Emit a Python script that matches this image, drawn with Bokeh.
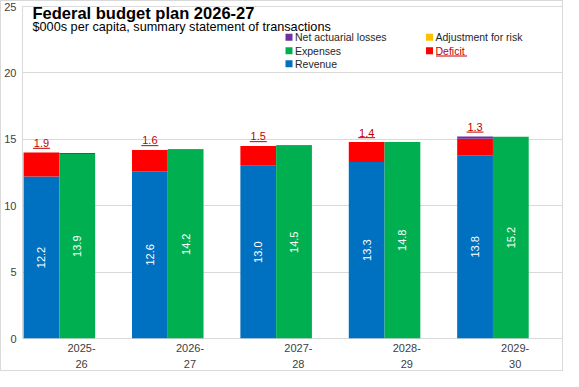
import math
from bokeh.plotting import figure
from bokeh.models import Range1d, FixedTicker, Label, BoxAnnotation, ColumnDataSource
from bokeh.embed import file_html
from bokeh.resources import INLINE
from bokeh.core.properties import value

# ---------------- data ----------------
years = ["2025-\n26", "2026-\n27", "2027-\n28", "2028-\n29", "2029-\n30"]
revenue = [12.2, 12.6, 13.0, 13.3, 13.8]
expenses = [13.9, 14.2, 14.5, 14.8, 15.2]
deficit_bar = [1.8, 1.6, 1.5, 1.5, 1.25]          # drawn height of the red segment
deficit_label = [1.9, 1.6, 1.5, 1.4, 1.3]         # printed deficit value
actuarial_on_deficit = [0.0, 0.0, 0.0, 0.0, 0.17]
actuarial_on_expenses = [0.06, 0.06, 0.06, 0.0, 0.0]
y_ticks = [0, 5, 10, 15, 20, 25]

title_text = "Federal budget plan 2026-27"
subtitle_text = "$000s per capita, summary statement of transactions"
legend_items = [
    ("Net actuarial losses", "#7030A0"),
    ("Adjustment for risk", "#FFC000"),
    ("Expenses", "#00B050"),
    ("Deficit", "#FF0000"),
    ("Revenue", "#0070C0"),
]

C_REV, C_EXP, C_DEF, C_ACT = "#0070C0", "#00B050", "#FF0000", "#7030A0"
DARKRED = "#C00000"
FONT = "Liberation Sans"

W, H = 563, 371
p = figure(width=W, height=H, output_backend="svg", toolbar_location=None,
           x_range=Range1d(-0.545, 4.455), y_range=Range1d(0, 25),
           min_border_left=0, min_border_right=0, min_border_top=5, min_border_bottom=0)
p.outline_line_color = "#D9D9D9"
p.background_fill_color = "white"
p.border_fill_color = "white"
p.styles = {"border": "1px solid #D9D9D9"}

idx = list(range(len(years)))
rev_x = [i - 0.37 for i in idx]
exp_x = [i - 0.04 for i in idx]
BW = 0.33

frame_h_px = 334.0
px = 25.0 / frame_h_px   # data units per vertical screen pixel

src = ColumnDataSource(dict(
    rev_x=rev_x, exp_x=exp_x, revenue=revenue, expenses=expenses,
    def_bottom=revenue,
    def_top=[r + d for r, d in zip(revenue, deficit_bar)],
    act_d_top=[r + d + a for r, d, a in zip(revenue, deficit_bar, actuarial_on_deficit)],
    act_e_top=[e + a for e, a in zip(expenses, actuarial_on_expenses)],
    rev_mid=[r / 2 for r in revenue], exp_mid=[e / 2 for e in expenses],
    rev_txt=[f"{v:.1f}" for v in revenue], exp_txt=[f"{v:.1f}" for v in expenses],
    def_txt=[f"{v:.1f}" for v in deficit_label],
))
src.data["lab_y"] = [t + 9.5 * px for t in src.data["act_d_top"]]
src.data["ul_y"] = [t + 4.3 * px for t in src.data["act_d_top"]]

p.vbar(x="rev_x", width=BW, bottom=0, top="revenue", source=src, fill_color=C_REV, line_color=None)
p.vbar(x="rev_x", width=BW, bottom="def_bottom", top="def_top", source=src, fill_color=C_DEF, line_color=None)
p.vbar(x="rev_x", width=BW, bottom="def_top", top="act_d_top", source=src, fill_color=C_ACT, line_color=None)
p.vbar(x="exp_x", width=BW, bottom=0, top="expenses", source=src, fill_color=C_EXP, line_color=None)
p.vbar(x="exp_x", width=BW, bottom="expenses", top="act_e_top", source=src, fill_color=C_ACT, line_color=None)

# value labels inside bars
p.text(x="rev_x", y="rev_mid", text="rev_txt", source=src, angle=math.pi / 2,
       text_align="center", text_baseline="middle", text_color="white",
       text_font=value(FONT), text_font_size="11px")
p.text(x="exp_x", y="exp_mid", text="exp_txt", source=src, angle=math.pi / 2,
       text_align="center", text_baseline="middle", text_color="white",
       text_font=value(FONT), text_font_size="11px")

# deficit labels above the revenue stacks (underlined)
p.text(x="rev_x", y="lab_y", text="def_txt", source=src,
       text_align="center", text_baseline="middle", text_color=DARKRED,
       text_font=value(FONT), text_font_size="11px")
p.scatter(x="rev_x", y="ul_y", source=src, marker="dash", size=17,
          line_color=DARKRED, line_width=1)

# axes
p.xgrid.grid_line_color = None
p.ygrid.grid_line_color = "#D9D9D9"
p.yaxis.ticker = FixedTicker(ticks=y_ticks)
p.xaxis.ticker = FixedTicker(ticks=idx)
p.xaxis.major_label_overrides = {i: years[i] for i in idx}
for ax in (p.xaxis, p.yaxis):
    ax.axis_line_color = None
    ax.major_tick_line_color = None
    ax.minor_tick_line_color = None
    ax.major_tick_out = 0
    ax.major_tick_in = 0
    ax.minor_tick_out = 0
    ax.minor_tick_in = 0
    ax.major_label_text_font = FONT
    ax.major_label_text_font_size = "11px"
    ax.major_label_text_color = "#404040"
p.yaxis.major_label_standoff = 6
p.xaxis.major_label_standoff = 3
p.xaxis.major_label_text_line_height = 1.35

# ---------- title, subtitle, legend (positions in reference window px) ----------
FL, FB = 27, 347   # frame left / bottom in reference window pixels
def sx(wx):
    return wx - FL
def sy(wy):
    return FB - wy

p.add_layout(Label(x=sx(37), y=sy(21.5), x_units="screen", y_units="screen", text=title_text,
                   text_font=FONT, text_font_size="16.5px", text_font_style="bold",
                   text_color="black", text_baseline="middle"))
p.add_layout(Label(x=sx(37), y=sy(35.5), x_units="screen", y_units="screen", text=subtitle_text,
                   text_font=FONT, text_font_size="12.7px",
                   text_color="black", text_baseline="middle"))

legend_pos = [(293.5, 45.7), (434, 45.7), (293.5, 59.3), (434, 59.3), (293.5, 72.3)]
for (label, color), (mx, my) in zip(legend_items, legend_pos):
    p.add_layout(BoxAnnotation(left=sx(mx - 3.5), right=sx(mx + 3.5), bottom=sy(my + 3.5), top=sy(my - 3.5),
                               left_units="screen", right_units="screen",
                               bottom_units="screen", top_units="screen",
                               fill_color=color, fill_alpha=1, line_color=None))
    tc = DARKRED if label == "Deficit" else "#262626"
    p.add_layout(Label(x=sx(mx + 6), y=sy(my), x_units="screen", y_units="screen", text=label,
                       text_font=FONT, text_font_size="10.5px", text_color=tc,
                       text_baseline="middle"))
    if label == "Deficit":
        p.add_layout(BoxAnnotation(left=sx(mx + 6.5), right=sx(mx + 37.5), bottom=sy(my + 5.6), top=sy(my + 4.6),
                                   left_units="screen", right_units="screen",
                                   bottom_units="screen", top_units="screen",
                                   fill_color=DARKRED, fill_alpha=1, line_color=None))

open("out.html", "w").write(file_html(p, INLINE))
